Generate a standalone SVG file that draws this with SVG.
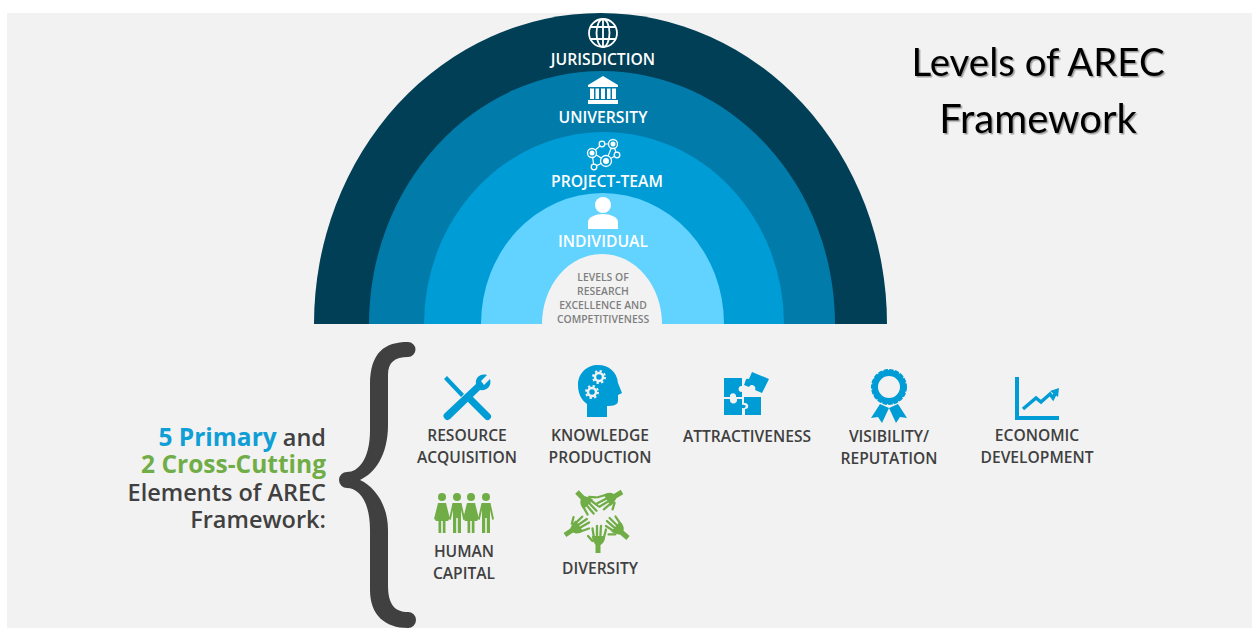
<svg xmlns="http://www.w3.org/2000/svg" width="1252" height="628" viewBox="0 0 1252 628">
<style>
.l{font-family:"Open Sans","Noto Sans","Liberation Sans",sans-serif;font-weight:600;text-anchor:middle}
.w{fill:#fff;font-size:15.7px}
.d{fill:#404040;font-size:15.6px}
.e{fill:#7f7f7f;font-size:10.4px}
.s{font-family:"Open Sans","Noto Sans","Liberation Sans",sans-serif;font-weight:600;font-size:23.500px;text-anchor:end;fill:#404040}
.sb{font-weight:700;font-size:24.500px}
.t{font-family:"Lato","Open Sans",sans-serif;font-size:38.400px;text-anchor:middle;fill:#000;filter:url(#sh)}
.b{fill:#009cd6}.g{fill:#70ad47}
</style>
<defs>
<filter id="sh" x="-5%" y="-10%" width="110%" height="125%"><feDropShadow dx="1.5" dy="1.5" stdDeviation="0.7" flood-color="#000" flood-opacity="0.35"/></filter>
<g id="hand"><path class="g" d="M-2.500 0H2.500V-8C6-10 7-13 7-17H-6C-6-13-4-11-2.500-8Z"/><path fill="none" stroke="#70ad47" stroke-width="2.300" stroke-linecap="round" d="M-4-15L-5.500-24.500M-1-16L-1-27M2.300-16L3-27M5.500-14L8-23.500M-5.500-12L-10-17"/></g>
<g id="man"><circle cx="0" cy="-17" r="4" class="g"/><path class="g" d="M-4.500-11H4.500L8 5L6.300 6L4-4V19H0.800V4H-0.800V19H-4V-4L-6.300 6L-8 5Z"/></g>
<g id="woman"><circle cx="0" cy="-17" r="4" class="g"/><path class="g" d="M-4-11H4L8 5L6.300 6L4-4L6.500 7H3.500V19H0.800V7H-0.800V19H-3.500V7H-6.500L-4-4L-6.300 6L-8 5Z"/></g>
</defs>
<rect width="1252" height="628" fill="#fff"/>
<rect x="7" y="13" width="1245" height="615" fill="#f2f2f2"/>

<g id="title"><text class="t" x="1038" y="76">Levels of AREC</text><text class="t" x="1038" y="133" style="font-size:40px">Framework</text></g>

<g id="level-jurisdiction">
<path fill="#003f56" d="M314 324 A286.500 311 0 0 1 887 324 Z"/>
<g fill="none" stroke="#fff" stroke-width="1.800"><circle cx="603" cy="33" r="14"/><ellipse cx="603" cy="33" rx="6.500" ry="14"/><path d="M603 19V47M590 27H616M590 39H616"/></g>
<text class="l w" x="603" y="65">JURISDICTION</text>
</g>
<g id="level-university">
<path fill="#007baa" d="M369 324 A233 253 0 0 1 835 324 Z"/>
<path fill="#fff" d="M603 76 L618 85 V87 H588 V85 Z M590 88.500H594V99H590Z M595.500 88.500H599V99H595.500Z M601 88.500H605V99H601Z M607 88.500H610.500V99H607Z M612 88.500H616V99H612Z M588 100H618V104H588Z"/>
<text class="l w" x="603" y="123">UNIVERSITY</text>
</g>
<g id="level-project-team">
<path fill="#009cd6" d="M424 324 A180 192 0 0 1 784 324 Z"/>
<path fill="none" stroke="#fff" stroke-width="1.200" d="M592 153L602 144L613 144L617 155L606 161L594 167L592 153M606 161L598 156L592 153M613 144L606 161"/>
<g fill="#009cd6" stroke="#fff" stroke-width="1.300"><circle cx="592" cy="153" r="4.500"/><circle cx="602" cy="144" r="2.800"/><circle cx="613" cy="144" r="4.500"/><circle cx="606" cy="161" r="5.500"/><circle cx="594" cy="167" r="2.800"/><circle cx="617" cy="155" r="2.800"/></g>
<g fill="#fff"><circle cx="592" cy="153" r="2.500"/><circle cx="613" cy="144" r="2.500"/><circle cx="606" cy="161" r="3"/></g>
<text class="l w" x="607" y="187">PROJECT-TEAM</text>
</g>
<g id="level-individual">
<path fill="#62d3ff" d="M481 324 A121.500 131 0 0 1 724 324 Z"/>
<circle cx="603" cy="205" r="8" fill="#fff"/><path fill="#fff" d="M588 229V222C588 217 596 214 603 214C610 214 618 217 618 222V229Z"/>
<text class="l w" x="603" y="247">INDIVIDUAL</text>
</g>
<g id="level-core">
<path fill="#f2f2f2" d="M542 324 A60 70 0 0 1 662 324 Z"/>
<text class="l e" x="603" y="281">LEVELS OF</text><text class="l e" x="603" y="295">RESEARCH</text><text class="l e" x="603" y="309">EXCELLENCE AND</text><text class="l e" x="603" y="323">COMPETITIVENESS</text>
</g>

<g id="intro">
<text class="s" x="326" y="446"><tspan class="sb" fill="#0f9ed5">5 Primary</tspan> and</text>
<text class="s sb" x="326" y="473" style="fill:#70ad47">2 Cross-Cutting</text>
<text class="s" x="326" y="501">Elements of AREC</text>
<text class="s" x="326" y="528">Framework:</text>
</g>
<g id="brace"><path fill="#404040" d="M408 342C385 342 370 352 370 385L370 430C370 460 358 472 347 472A8 8 0 0 0 347 488C358 488 370 500 370 530L370 590C370 615 385 628 408 628A8 8 0 0 0 408 612C395 612 388 605 388 585L388 530C388 505 375 487 360 480C375 473 388 455 388 425L388 375C388 362 395 357 408 357A7.500 7.500 0 0 0 408 342Z"/></g>

<g id="resource-acquisition">
<path class="b" d="M444 379L447 376L464 394L461 397ZM465 399L470 394L490 414A3.500 3.500 0 0 1 485 419Z"/>
<path class="b" d="M445 413L476 384C475 378 480 373 487 375L481 381L484 385L490 379C492 386 487 391 480 390L450 419A3.500 3.500 0 0 1 445 413Z"/>
<text class="l d" x="467" y="441">RESOURCE</text><text class="l d" x="467" y="463">ACQUISITION</text>
</g>
<g id="knowledge-production">
<path class="b" d="M587 417V404C581 400 578 393 578 385C578 373 587 365 598 365C609 365 617 372 618 383L622 393L618 395V401C618 405 613 406 607 406V417Z"/>
<g fill="none" stroke="#f2f2f2"><circle cx="599" cy="377" r="4" stroke-width="2.500"/><circle cx="592" cy="392" r="4" stroke-width="2.500"/><circle cx="599" cy="377" r="6" stroke-width="2" stroke-dasharray="2.300 2.400"/><circle cx="592" cy="392" r="6" stroke-width="2" stroke-dasharray="2.300 2.400"/></g>
<text class="l d" x="600" y="441">KNOWLEDGE</text><text class="l d" x="600" y="463">PRODUCTION</text>
</g>
<g id="attractiveness">
<path class="b" d="M724 378H742V386C738 385 737 392 742 392V397H736C737 392 729 392 730 397H724ZM745 397H761V415H745V409C750 409 749 402 744 403V397ZM724 399H730C729 405 738 405 737 399H742V405C747 404 747 409 742 408V415H724Z"/>
<path class="b" d="M749 379L752 372L769 379L762 393L755 390C757 386 751 383 749 387L744 385C746 381 745 378 749 379Z"/>
<text class="l d" x="747" y="442">ATTRACTIVENESS</text>
</g>
<g id="visibility-reputation">
<circle cx="889" cy="387" r="14" fill="none" stroke="#009cd6" stroke-width="6"/>
<circle cx="889" cy="387" r="17" fill="none" stroke="#009cd6" stroke-width="2" stroke-dasharray="4.500 1.200"/>
<path class="b" d="M880 404L871 418L878 417L882 423L889 408ZM898 404L907 418L900 417L896 423L889 408Z"/>
<text class="l d" x="889" y="442">VISIBILITY/</text><text class="l d" x="889" y="464">REPUTATION</text>
</g>
<g id="economic-development">
<path class="b" d="M1015 377H1019V416H1059V420H1015Z"/>
<path fill="none" stroke="#009cd6" stroke-width="3.500" d="M1023 409L1036 398L1041 402L1050 394L1053 398L1056 392"/><path class="b" d="M1050 391L1059 388L1058 397Z"/>
<text class="l d" x="1037" y="441">ECONOMIC</text><text class="l d" x="1037" y="463">DEVELOPMENT</text>
</g>
<g id="human-capital">
<use href="#woman" x="442" y="514"/><use href="#man" x="457" y="514"/><use href="#woman" x="471" y="514"/><use href="#man" x="486" y="514"/>
<text class="l d" x="464" y="557">HUMAN</text><text class="l d" x="464" y="579">CAPITAL</text>
</g>
<g id="diversity">
<use href="#hand" transform="translate(598 553)"/>
<use href="#hand" transform="translate(565 535) rotate(56)"/>
<use href="#hand" transform="translate(577 492) rotate(136)"/>
<use href="#hand" transform="translate(622 492) rotate(239)"/>
<use href="#hand" transform="translate(628 538) rotate(311)"/>
<text class="l d" x="600" y="574">DIVERSITY</text>
</g>
</svg>
